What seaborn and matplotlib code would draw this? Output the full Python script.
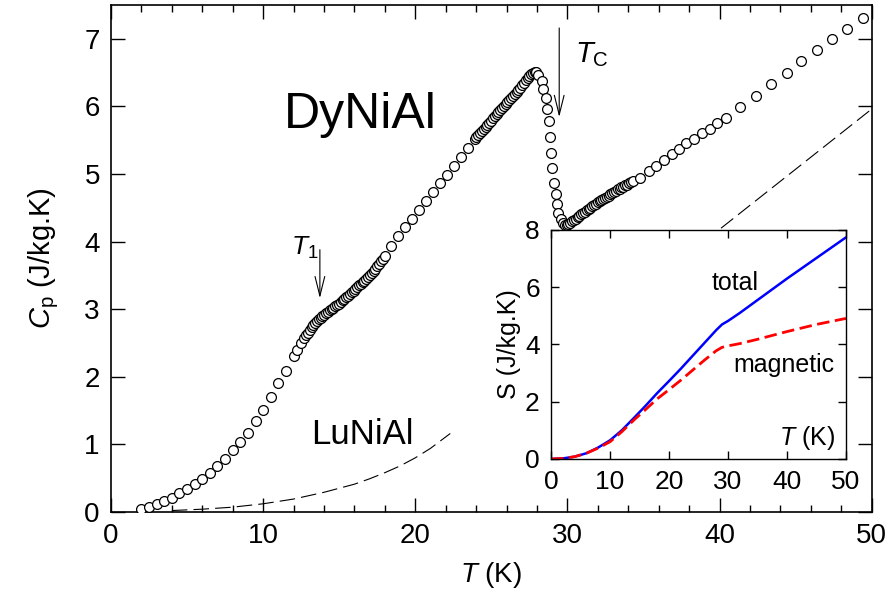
import matplotlib
matplotlib.use('Agg')
import matplotlib.pyplot as plt
from matplotlib.ticker import MultipleLocator
import seaborn as sns

sns.set_style('ticks')
plt.rcParams['font.family'] = ['Liberation Sans', 'DejaVu Sans']
plt.rcParams['mathtext.fontset'] = 'custom'
plt.rcParams['mathtext.rm'] = 'Liberation Sans'
plt.rcParams['mathtext.it'] = 'Liberation Sans:italic'
for key in ['text.color', 'axes.labelcolor', 'xtick.color', 'ytick.color', 'axes.edgecolor']:
    plt.rcParams[key] = 'black'

# DyNiAl specific heat
T_dy = [2.0, 2.5, 3.0, 3.5, 4.0, 4.5, 5.0, 5.5, 6.0, 6.5, 7.0, 7.5, 8.0, 8.5, 9.0, 9.5,
        10.0, 10.5, 11.0, 11.5, 12.0, 12.25, 12.5,
        12.7, 12.82, 12.94, 13.06, 13.18, 13.3, 13.42, 13.54, 13.66, 13.78, 13.9, 14.02,
        14.14, 14.26, 14.38, 14.5, 14.62, 14.74, 14.86, 14.98, 15.1, 15.22, 15.34, 15.46,
        15.58, 15.7, 15.82, 15.94, 16.06, 16.18, 16.3, 16.42, 16.54, 16.66, 16.78, 16.9,
        17.02, 17.14, 17.26, 17.38, 17.5, 17.62, 17.74, 17.86, 17.98,
        18.4, 18.86, 19.32, 19.78, 20.24, 20.7, 21.16, 21.62, 22.08, 22.54, 23.0, 23.46, 23.9,
        24.02, 24.14, 24.26, 24.38, 24.5, 24.62, 24.74, 24.86, 24.98, 25.1, 25.22, 25.34,
        25.46, 25.58, 25.7, 25.82, 25.94, 26.06, 26.18, 26.3, 26.42, 26.54, 26.66, 26.78,
        26.9, 27.02, 27.14, 27.26, 27.38, 27.5, 27.62, 27.74, 27.86, 27.95,
        28.08, 28.3, 28.4, 28.56, 28.69, 28.78, 28.84, 28.9, 29.0, 29.1, 29.24, 29.3, 29.4,
        29.57, 29.7, 29.83,
        29.95, 30.07, 30.19, 30.31, 30.43, 30.55, 30.67, 30.79, 30.91, 31.03, 31.15, 31.27,
        31.39, 31.51, 31.63, 31.75, 31.87, 31.99, 32.11, 32.23, 32.35, 32.47, 32.59, 32.71,
        32.83, 32.95, 33.07, 33.19, 33.31, 33.43, 33.55, 33.67, 33.79, 33.91, 34.03, 34.15, 34.3,
        34.8, 35.35, 35.85, 36.35, 36.86, 37.34, 37.82, 38.33, 38.85, 39.36, 39.86, 40.39,
        41.37, 42.38, 43.41, 44.4, 45.38, 46.43, 47.4, 48.4, 49.43]
cp_dy = [0.04, 0.07, 0.11, 0.16, 0.21, 0.28, 0.34, 0.41, 0.49, 0.58, 0.68, 0.78, 0.91, 1.03, 1.17, 1.34,
         1.51, 1.70, 1.90, 2.09, 2.30, 2.40, 2.50,
         2.57, 2.61, 2.65, 2.69, 2.73, 2.77, 2.80, 2.83, 2.85, 2.87, 2.90, 2.92,
         2.94, 2.96, 2.98, 3.00, 3.02, 3.04, 3.06, 3.08, 3.11, 3.13, 3.15, 3.18,
         3.20, 3.22, 3.25, 3.27, 3.30, 3.32, 3.35, 3.37, 3.40, 3.42, 3.45, 3.48,
         3.51, 3.54, 3.57, 3.60, 3.64, 3.67, 3.71, 3.74, 3.78,
         3.94, 4.08, 4.21, 4.34, 4.47, 4.60, 4.73, 4.86, 4.99, 5.12, 5.25, 5.38, 5.51,
         5.54, 5.57, 5.60, 5.63, 5.67, 5.70, 5.73, 5.76, 5.79, 5.82, 5.85, 5.88,
         5.91, 5.94, 5.97, 6.00, 6.03, 6.06, 6.09, 6.12, 6.15, 6.18, 6.21, 6.24,
         6.27, 6.31, 6.35, 6.39, 6.42, 6.45, 6.48, 6.50, 6.51, 6.51,
         6.47, 6.37, 6.25, 6.13, 5.96, 5.78, 5.54, 5.31, 5.09, 4.87, 4.70, 4.55, 4.42,
         4.33, 4.27, 4.25,
         4.25, 4.26, 4.28, 4.30, 4.32, 4.34, 4.36, 4.38, 4.40, 4.42, 4.44, 4.46,
         4.48, 4.50, 4.52, 4.54, 4.56, 4.58, 4.60, 4.61, 4.63, 4.65, 4.66, 4.68,
         4.70, 4.72, 4.73, 4.75, 4.77, 4.78, 4.80, 4.81, 4.83, 4.84, 4.86, 4.88, 4.90,
         4.94, 5.04, 5.12, 5.20, 5.29, 5.37, 5.45, 5.52, 5.60, 5.67, 5.75, 5.83,
         5.99, 6.16, 6.33, 6.50, 6.67, 6.84, 6.99, 7.14, 7.30]

# LuNiAl reference (phonon) curve, drawn in two pieces
T_lu = [4, 6, 8, 10, 12, 13, 14, 15, 16, 17, 18, 19, 20, 21, 22.3]
cp_lu = [0.02, 0.04, 0.07, 0.12, 0.19, 0.24, 0.29, 0.35, 0.41, 0.49, 0.58, 0.68, 0.80, 0.94, 1.16]
T_lu2 = [30.0, 35.0, 40.0, 45.0, 50.0]
cp_lu2 = [2.42, 3.30, 4.18, 5.07, 5.96]

# inset: entropy
T_s = [0, 2, 4, 6, 8, 10, 12, 14, 16, 18, 20, 22, 24, 26, 28, 29, 30, 32, 35, 40, 45, 50]
S_total = [0, 0.02, 0.08, 0.2, 0.4, 0.65, 1.0, 1.42, 1.85, 2.3, 2.72, 3.15, 3.6, 4.05, 4.5,
           4.7, 4.82, 5.1, 5.55, 6.3, 7.02, 7.74]
S_mag = [0, 0.02, 0.08, 0.2, 0.38, 0.6, 0.95, 1.35, 1.72, 2.1, 2.42, 2.75, 3.1, 3.45, 3.78,
         3.9, 3.95, 4.03, 4.18, 4.45, 4.7, 4.91]

fig = plt.figure(figsize=(8.95, 6.16), dpi=100)
ax = fig.add_axes([0.124, 0.169, 0.850, 0.823])

sns.lineplot(x=T_lu, y=cp_lu, ax=ax, color='black', lw=0.8)
ax.lines[-1].set_dashes([14, 5.5])
sns.lineplot(x=T_lu2, y=cp_lu2, ax=ax, color='black', lw=0.8)
ax.lines[-1].set_dashes([14, 5.5])

sns.scatterplot(x=T_dy, y=cp_dy, ax=ax, marker='o', s=50, facecolor='white',
                edgecolor='black', linewidth=0.9, zorder=3)

ax.set_xlim(0, 50)
ax.set_ylim(0, 7.5)
ax.xaxis.set_major_locator(MultipleLocator(10))
ax.xaxis.set_minor_locator(MultipleLocator(2))
ax.yaxis.set_major_locator(MultipleLocator(1))
ax.tick_params(which='both', direction='in', top=True, right=True, labelsize=20, pad=8)
ax.tick_params(which='major', length=10, width=1)
ax.tick_params(which='minor', length=5, width=1)
for sp in ax.spines.values():
    sp.set_linewidth(1.2)
ax.set_xlabel(r'$T$ (K)', fontsize=20, labelpad=8)
ax.set_ylabel(r'$C_\mathrm{p}$ (J/kg.K)', fontsize=21, labelpad=17)

ax.text(16.4, 5.87, 'DyNiAl', fontsize=36, ha='center', va='center')
ax.text(16.5, 1.14, 'LuNiAl', fontsize=25, ha='center', va='center')
ax.text(11.8, 3.81, r'$T_1$', fontsize=19, ha='left', va='baseline')
ax.text(30.49, 6.65, r'$T_\mathrm{C}$', fontsize=21, ha='left', va='baseline')
ax.annotate('', xy=(13.73, 3.12), xytext=(13.73, 3.92),
            arrowprops=dict(arrowstyle='->,head_length=1.4,head_width=0.35', lw=0.8, color='black'))
ax.annotate('', xy=(29.46, 5.8), xytext=(29.46, 7.2),
            arrowprops=dict(arrowstyle='->,head_length=1.4,head_width=0.35', lw=0.8, color='black'))

# inset
axi = fig.add_axes([0.6156, 0.2549, 0.3296, 0.3718])
sns.lineplot(x=T_s, y=S_total, ax=axi, color='#0000ff', lw=1.8)
sns.lineplot(x=T_s, y=S_mag, ax=axi, color='#ff0000', lw=2.0)
axi.lines[-1].set_dashes([4.5, 2])
axi.set_xlim(0, 50)
axi.set_ylim(0, 8)
axi.xaxis.set_major_locator(MultipleLocator(10))
axi.yaxis.set_major_locator(MultipleLocator(2))
axi.tick_params(direction='in', top=True, right=True, labelsize=19, length=6, width=1, pad=8)
for sp in axi.spines.values():
    sp.set_linewidth(1.0)
axi.set_ylabel('S (J/kg.K)', fontsize=18, labelpad=3)
axi.set_xlabel('')
axi.text(43.4, 0.75, r'$T$ (K)', fontsize=18, ha='center', va='center')
axi.text(31.2, 5.9, 'total', fontsize=18, ha='center', va='baseline')
axi.text(39.5, 3.05, 'magnetic', fontsize=18, ha='center', va='baseline')

fig.savefig('out.png', dpi=100)
